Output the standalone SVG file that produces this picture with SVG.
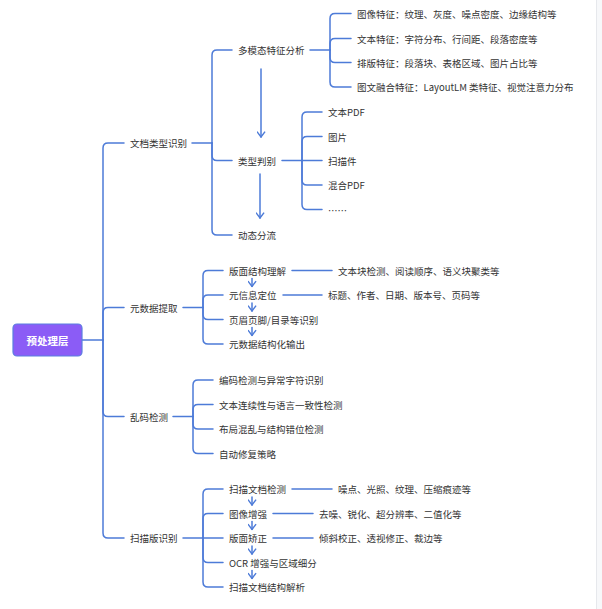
<svg xmlns="http://www.w3.org/2000/svg" width="602" height="609" viewBox="0 0 602 609">
<defs>
<style>
.c{fill:none;stroke:#4d7bd8;stroke-width:1.5;stroke-linecap:round}
.t{font-family:"Noto Sans CJK SC","Noto Sans",sans-serif;font-size:9.5px;fill:#333;dominant-baseline:central}
.r{font-family:"Noto Sans CJK SC","Noto Sans",sans-serif;font-size:10.5px;font-weight:bold;fill:#fff;dominant-baseline:central;text-anchor:middle}
</style>
<marker id="ah" viewBox="0 0 10 10" refX="9" refY="5" markerWidth="9" markerHeight="9" markerUnits="userSpaceOnUse" orient="auto">
<path d="M3,0.5 L9,5 L3,9.5" fill="none" stroke="#4d7bd8" stroke-width="1.6"/>
</marker>
</defs>
<rect x="0" y="0" width="602" height="609" fill="#fff"/>
<rect x="596.5" y="0" width="6" height="609" fill="#f7f8fa"/>
<line x1="596.5" y1="0" x2="596.5" y2="609" stroke="#e6e8ec" stroke-width="1"/>
<g id="connectors">
<path class="c" d="M82,340 H103"/>
<path class="c" d="M103,340 V148 Q103,143 108,143 H124"/>
<path class="c" d="M103,340 V312.5 Q103,307.5 108,307.5 H124"/>
<path class="c" d="M103,340 V411.5 Q103,416.5 108,416.5 H124"/>
<path class="c" d="M103,340 V533 Q103,538 108,538 H124"/>
<path class="c" d="M192,143 H212"/>
<path class="c" d="M212,143 V55 Q212,50 217,50 H232"/>
<path class="c" d="M212,143 V155.5 Q212,160.5 217,160.5 H232"/>
<path class="c" d="M212,143 V230 Q212,235 217,235 H232"/>
<path class="c" d="M261,69 V137" marker-end="url(#ah)"/>
<path class="c" d="M260,174 V218" marker-end="url(#ah)"/>
<path class="c" d="M310,50 H330"/>
<path class="c" d="M330,50 V18.5 Q330,13.5 335,13.5 H351"/>
<path class="c" d="M330,50 V43.5 Q330,38.5 335,38.5 H351"/>
<path class="c" d="M330,50 V57.5 Q330,62.5 335,62.5 H351"/>
<path class="c" d="M330,50 V82 Q330,87 335,87 H351"/>
<path class="c" d="M282,160.5 H302"/>
<path class="c" d="M302,160.5 V117 Q302,112 307,112 H322"/>
<path class="c" d="M302,160.5 V141.5 Q302,136.5 307,136.5 H322"/>
<path class="c" d="M302,160.5 H322"/>
<path class="c" d="M302,160.5 V180 Q302,185 307,185 H322"/>
<path class="c" d="M302,160.5 V204.5 Q302,209.5 307,209.5 H322"/>
<path class="c" d="M183,307.5 H203"/>
<path class="c" d="M203,307.5 V275.5 Q203,270.5 208,270.5 H223"/>
<path class="c" d="M203,307.5 V300 Q203,295 208,295 H223"/>
<path class="c" d="M203,307.5 V314.5 Q203,319.5 208,319.5 H223"/>
<path class="c" d="M203,307.5 V339 Q203,344 208,344 H223"/>
<path class="c" d="M252,278.5 V286.5" marker-end="url(#ah)"/>
<path class="c" d="M252,303 V311" marker-end="url(#ah)"/>
<path class="c" d="M252,327.5 V335.5" marker-end="url(#ah)"/>
<path class="c" d="M292,270.5 H332"/>
<path class="c" d="M283,295 H322"/>
<path class="c" d="M173,416.5 H193"/>
<path class="c" d="M193,416.5 V385 Q193,380 198,380 H213"/>
<path class="c" d="M193,416.5 V409.5 Q193,404.5 198,404.5 H213"/>
<path class="c" d="M193,416.5 V424 Q193,429 198,429 H213"/>
<path class="c" d="M193,416.5 V448.5 Q193,453.5 198,453.5 H213"/>
<path class="c" d="M183,538 H203"/>
<path class="c" d="M203,538 V494 Q203,489 208,489 H223"/>
<path class="c" d="M203,538 V518.5 Q203,513.5 208,513.5 H223"/>
<path class="c" d="M203,538 H223"/>
<path class="c" d="M203,538 V557.5 Q203,562.5 208,562.5 H223"/>
<path class="c" d="M203,538 V582 Q203,587 208,587 H223"/>
<path class="c" d="M252,497 V505" marker-end="url(#ah)"/>
<path class="c" d="M252,521.5 V529.5" marker-end="url(#ah)"/>
<path class="c" d="M252,546 V554" marker-end="url(#ah)"/>
<path class="c" d="M252,570.5 V578.5" marker-end="url(#ah)"/>
<path class="c" d="M292,489 H332"/>
<path class="c" d="M273,513.5 H313"/>
<path class="c" d="M273,538 H313"/>
</g>
<g id="root"><rect x="13" y="324" width="69" height="32" rx="4" fill="#8b5cf6" stroke="#5b7fe0" stroke-width="1.2"/><text class="r" x="47.5" y="340">预处理层</text></g>
<g id="n-doctype"><text class="t" x="130" y="143">文档类型识别</text></g>
<g id="n-meta"><text class="t" x="130" y="307.5">元数据提取</text></g>
<g id="n-garble"><text class="t" x="130" y="416.5">乱码检测</text></g>
<g id="n-scan"><text class="t" x="130" y="538">扫描版识别</text></g>
<g id="n-multimodal"><text class="t" x="238" y="50">多模态特征分析</text></g>
<g id="n-judge"><text class="t" x="238" y="160.5">类型判别</text></g>
<g id="n-route"><text class="t" x="238" y="235">动态分流</text></g>
<g id="n-f1"><text class="t" x="357" y="13.5">图像特征：纹理、灰度、噪点密度、边缘结构等</text></g>
<g id="n-f2"><text class="t" x="357" y="38.5">文本特征：字符分布、行间距、段落密度等</text></g>
<g id="n-f3"><text class="t" x="357" y="62.5">排版特征：段落块、表格区域、图片占比等</text></g>
<g id="n-f4"><text class="t" x="357" y="87">图文融合特征：LayoutLM 类特征、视觉注意力分布</text></g>
<g id="n-t1"><text class="t" x="328" y="112">文本PDF</text></g>
<g id="n-t2"><text class="t" x="328" y="136.5">图片</text></g>
<g id="n-t3"><text class="t" x="328" y="160.5">扫描件</text></g>
<g id="n-t4"><text class="t" x="328" y="185">混合PDF</text></g>
<g id="n-t5"><text class="t" x="328" y="209.5">……</text></g>
<g id="n-m1"><text class="t" x="229" y="270.5">版面结构理解</text></g>
<g id="n-m2"><text class="t" x="229" y="295">元信息定位</text></g>
<g id="n-m3"><text class="t" x="229" y="319.5">页眉页脚/目录等识别</text></g>
<g id="n-m4"><text class="t" x="229" y="344">元数据结构化输出</text></g>
<g id="n-m1d"><text class="t" x="338" y="270.5">文本块检测、阅读顺序、语义块聚类等</text></g>
<g id="n-m2d"><text class="t" x="328" y="295">标题、作者、日期、版本号、页码等</text></g>
<g id="n-g1"><text class="t" x="219" y="380">编码检测与异常字符识别</text></g>
<g id="n-g2"><text class="t" x="219" y="404.5">文本连续性与语言一致性检测</text></g>
<g id="n-g3"><text class="t" x="219" y="429">布局混乱与结构错位检测</text></g>
<g id="n-g4"><text class="t" x="219" y="453.5">自动修复策略</text></g>
<g id="n-s1"><text class="t" x="229" y="489">扫描文档检测</text></g>
<g id="n-s2"><text class="t" x="229" y="513.5">图像增强</text></g>
<g id="n-s3"><text class="t" x="229" y="538">版面矫正</text></g>
<g id="n-s4"><text class="t" x="229" y="562.5">OCR 增强与区域细分</text></g>
<g id="n-s5"><text class="t" x="229" y="587">扫描文档结构解析</text></g>
<g id="n-s1d"><text class="t" x="338" y="489">噪点、光照、纹理、压缩痕迹等</text></g>
<g id="n-s2d"><text class="t" x="319" y="513.5">去噪、锐化、超分辨率、二值化等</text></g>
<g id="n-s3d"><text class="t" x="319" y="538">倾斜校正、透视修正、裁边等</text></g>
</svg>
